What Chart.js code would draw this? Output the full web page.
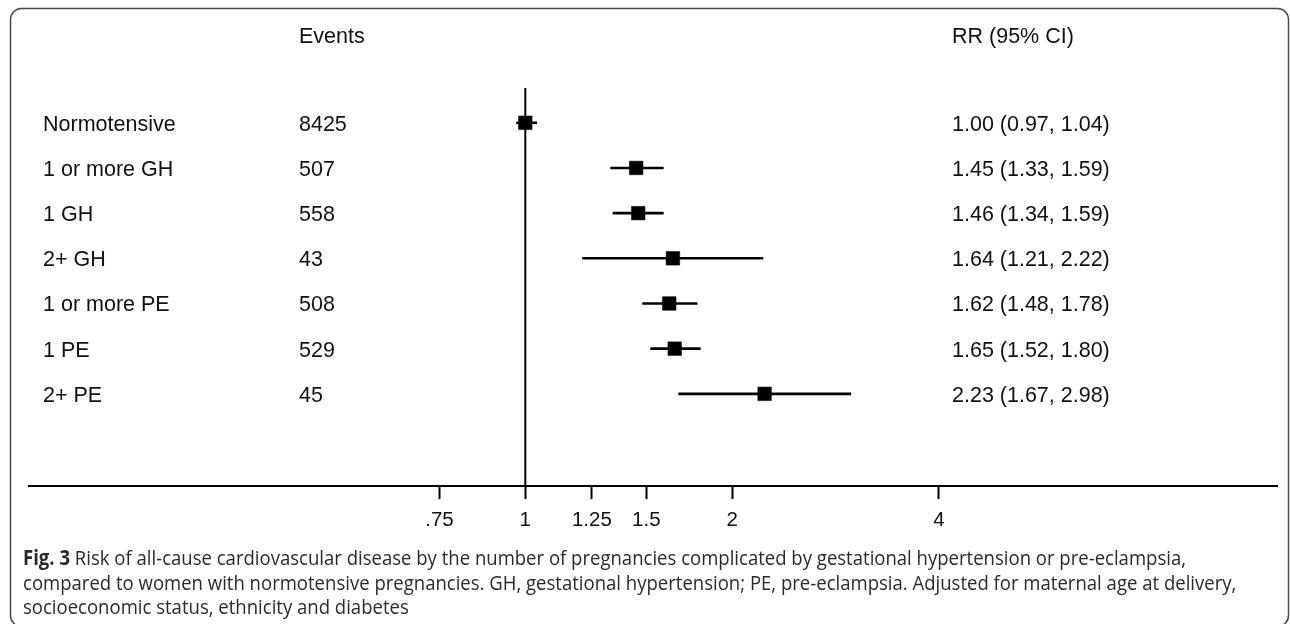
<!DOCTYPE html>
<html><head><meta charset="utf-8">
<script src="https://cdn.jsdelivr.net/npm/chart.js@4/dist/chart.umd.min.js"></script>
<style>html,body{margin:0;padding:0;background:#fff;}#wrap{width:1290px;height:624px;position:relative;}canvas{display:block;}</style>
</head><body><div id="wrap"><canvas id="c" width="1290" height="624"></canvas></div>
<script>
const groups = ['Normotensive','1 or more GH','1 GH','2+ GH','1 or more PE','1 PE','2+ PE'];
const events = ['8425','507','558','43','508','529','45'];
const rr = [1.00, 1.45, 1.46, 1.64, 1.62, 1.65, 2.23];
const lower = [0.97, 1.33, 1.34, 1.21, 1.48, 1.52, 1.67];
const upper = [1.04, 1.59, 1.59, 2.22, 1.78, 1.80, 2.98];
const tickValues = [0.75, 1, 1.25, 1.5, 2, 4];
const tickLabels = ['.75', '1', '1.25', '1.5', '2', '4'];
const headers = ['Events', 'RR (95% CI)'];
const captionBold = 'Fig. 3';
const captionLines = [
  ' Risk of all-cause cardiovascular disease by the number of pregnancies complicated by gestational hypertension or pre-eclampsia,',
  'compared to women with normotensive pregnancies. GH, gestational hypertension; PE, pre-eclampsia. Adjusted for maternal age at delivery,',
  'socioeconomic status, ethnicity and diabetes'
];
const refValue = 1;

const X_MIN = 0.1895, X_MAX = 12.42;
const Y_MIN = 0.23, Y_MAX = 9.04;
const rowIndex = groups.map((g, i) => i + 1);

const datasets = [];
// reference line at RR = 1
datasets.push({
  data: [{x: refValue, y: Y_MIN}, {x: refValue, y: Y_MAX}],
  showLine: true, borderColor: '#000', borderWidth: 2, pointRadius: 0
});
// confidence intervals
groups.forEach((g, i) => {
  datasets.push({
    data: [{x: lower[i], y: rowIndex[i]}, {x: upper[i], y: rowIndex[i]}],
    showLine: true, borderColor: '#000', borderWidth: 2.6, pointRadius: 0
  });
});
// point estimates
datasets.push({
  data: rr.map((v, i) => ({x: v, y: rowIndex[i]})),
  showLine: false, pointStyle: 'rect', pointRadius: 9.6,
  backgroundColor: '#000', borderColor: '#000', borderWidth: 0.5
});

const textPlugin = {
  id: 'texts',
  afterDraw(chart) {
    const ctx = chart.ctx;
    const y = chart.scales.y;
    ctx.save();
    // frame
    ctx.strokeStyle = '#4a4a4a';
    ctx.lineWidth = 1.5;
    ctx.beginPath();
    ctx.roundRect(10.5, 8.5, 1278, 618, 11);
    ctx.stroke();
    // column texts
    ctx.fillStyle = '#111';
    ctx.font = '21.5px "Liberation Sans", Arial, sans-serif';
    ctx.textBaseline = 'middle';
    ctx.textAlign = 'left';
    ctx.fillText(headers[0], 299, 37);
    ctx.fillText(headers[1], 952, 37);
    groups.forEach((g, i) => {
      const py = y.getPixelForValue(rowIndex[i]) + 2;
      ctx.fillText(g, 43, py);
      ctx.fillText(events[i], 299, py);
      ctx.fillText(rr[i].toFixed(2) + ' (' + lower[i].toFixed(2) + ', ' + upper[i].toFixed(2) + ')', 952, py);
    });
    // caption
    ctx.textBaseline = 'alphabetic';
    ctx.fillStyle = '#2a2a2a';
    const fam = '"Open Sans", "Noto Sans", sans-serif';
    const fs = 20.5;
    ctx.font = 'bold ' + fs + 'px ' + fam;
    const wb = ctx.measureText(captionBold).width;
    ctx.font = fs + 'px ' + fam;
    const w1 = ctx.measureText(captionLines[0]).width;
    const f = 1163 / (wb + w1);
    const baselines = [565, 589.5, 614];
    const x0 = 23;
    captionLines.forEach((line, k) => {
      ctx.save();
      ctx.translate(x0, baselines[k]);
      ctx.scale(f, 1);
      let xx = 0;
      if (k === 0) {
        ctx.font = 'bold ' + fs + 'px ' + fam;
        ctx.fillText(captionBold, 0, 0);
        xx = wb;
      }
      ctx.font = fs + 'px ' + fam;
      ctx.fillText(line, xx, 0);
      ctx.restore();
    });
    ctx.restore();
  }
};

new Chart(document.getElementById('c'), {
  type: 'scatter',
  data: { datasets },
  plugins: [textPlugin],
  options: {
    responsive: false,
    animation: false,
    events: [],
    layout: { padding: { left: 29, right: 13, top: 88, bottom: 98 } },
    plugins: { legend: { display: false }, tooltip: { enabled: false } },
    scales: {
      x: {
        type: 'logarithmic',
        position: 'bottom',
        min: X_MIN, max: X_MAX,
        afterBuildTicks(scale) { scale.ticks = tickValues.map(v => ({ value: v })); },
        afterFit(scale) { scale.height = 40; },
        grid: { display: true, drawOnChartArea: false, drawTicks: true, tickLength: 13, tickWidth: 2, tickColor: '#000' },
        border: { display: true, color: '#000', width: 2 },
        ticks: {
          autoSkip: false, maxRotation: 0, minRotation: 0, padding: 9,
          color: '#111',
          font: { family: '"Liberation Sans", Arial, sans-serif', size: 20.5 },
          callback(value) { const k = tickValues.indexOf(value); return k >= 0 ? tickLabels[k] : ''; }
        }
      },
      y: {
        type: 'linear', reverse: true, min: Y_MIN, max: Y_MAX, display: false
      }
    }
  }
});
</script>
</body></html>
